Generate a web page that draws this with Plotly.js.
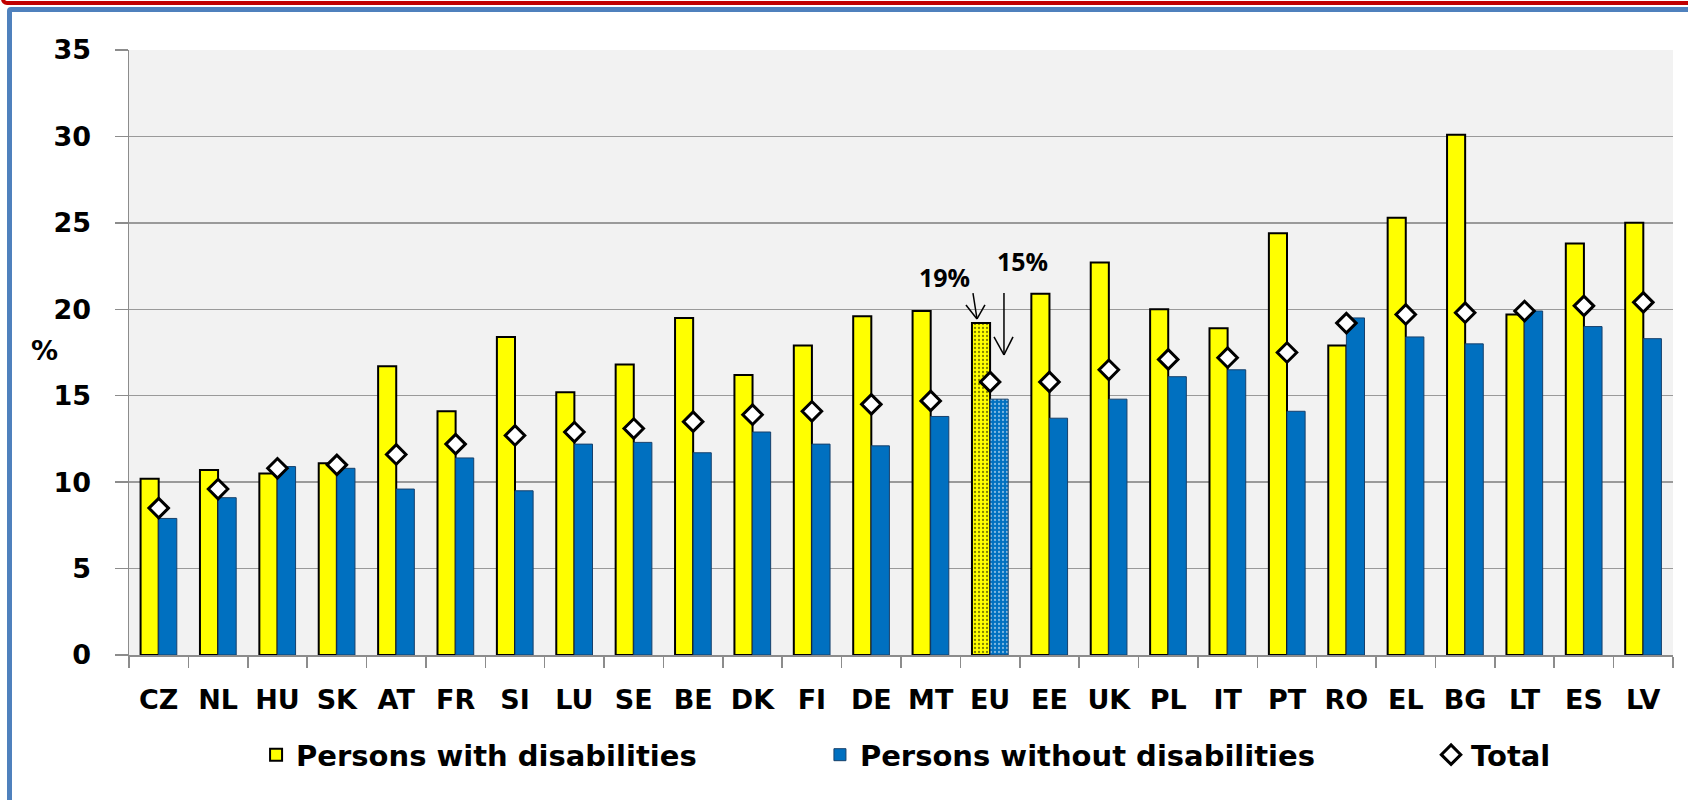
<!DOCTYPE html>
<html>
<head>
<meta charset="utf-8">
<script src="https://cdn.plot.ly/plotly-3.0.1.min.js"></script>
<style>
  html, body { margin: 0; padding: 0; background: #ffffff; overflow: hidden; }
  #wrap { position: relative; width: 1688px; height: 800px; }
  #chart { position: absolute; left: 0; top: 0; width: 1688px; height: 800px; }
  #redline { position: absolute; left: 1px; top: -25px; width: 1720px; height: 30px; box-sizing: border-box;
             border: 4px solid #C00000; border-radius: 6px; pointer-events: none; z-index: 5; }
  #blueframe { position: absolute; left: 7px; top: 7px; width: 1720px; height: 900px; box-sizing: border-box;
               border: 5px solid #4F81BD; border-radius: 4px; pointer-events: none; z-index: 5; }
</style>
</head>
<body>
<div id="wrap">
  <div id="chart"></div>
  <div id="redline"></div>
  <div id="blueframe"></div>
</div>
<script>
const categories = ['CZ','NL','HU','SK','AT','FR','SI','LU','SE','BE','DK','FI','DE','MT','EU','EE','UK','PL','IT','PT','RO','EL','BG','LT','ES','LV'];
const withDisabilities    = [10.2,10.7,10.5,11.1,16.7,14.1,18.4,15.2,16.8,19.5,16.2,17.9,19.6,19.9,19.2,20.9,22.7,20.0,18.9,24.4,17.9,25.3,30.1,19.7,23.8,25.0];
const withoutDisabilities = [7.9,9.1,10.9,10.8,9.6,11.4,9.5,12.2,12.3,11.7,12.9,12.2,12.1,13.8,14.8,13.7,14.8,16.1,16.5,14.1,19.5,18.4,18.0,19.9,19.0,18.3];
const totalValues         = [8.5,9.6,10.8,11.0,11.6,12.2,12.7,12.9,13.1,13.5,13.9,14.1,14.5,14.7,15.8,15.8,16.5,17.1,17.2,17.5,19.2,19.7,19.8,19.9,20.2,20.4];
const highlightCategory = 'EU';
const euLabelWith = '19%';
const euLabelWithout = '15%';

const patternShape = categories.map(c => c === highlightCategory ? '.' : '');
const euIndex = categories.indexOf(highlightCategory);

const catFont = { family: 'DejaVu Sans, sans-serif', size: 27, color: '#000000', weight: 'bold' };
const legFont = { family: 'DejaVu Sans, sans-serif', size: 29, color: '#000000', weight: 'bold' };
const yFont = { family: 'DejaVu Sans, sans-serif', size: 27, color: '#000000', weight: 'bold' };
const noteFont = { family: 'Open Sans, DejaVu Sans Condensed, sans-serif', size: 25, color: '#000000', weight: 'bold' };

const traces = [
  {
    type: 'bar', name: 'Persons with disabilities', x: categories, y: withDisabilities,
    legend: 'legend',
    marker: { color: '#FFFF00', line: { color: '#000000', width: 2 },
              pattern: { shape: patternShape, fgcolor: '#000000', bgcolor: '#FFFF00', size: 4, solidity: 0.25, fillmode: 'overlay' } },
    hoverinfo: 'x+y'
  },
  {
    type: 'bar', name: 'Persons without disabilities', x: categories, y: withoutDisabilities,
    legend: 'legend2',
    marker: { color: '#0070C0', line: { color: '#17406B', width: 1 },
              pattern: { shape: patternShape, fgcolor: '#FFFFFF', bgcolor: '#0070C0', size: 4, solidity: 0.25, fillmode: 'overlay' } },
    hoverinfo: 'x+y'
  },
  {
    type: 'scatter', mode: 'markers', name: 'Total', x: categories, y: totalValues,
    legend: 'legend3',
    marker: { symbol: 'diamond', size: 15, color: '#FFFFFF', line: { color: '#000000', width: 3 } },
    hoverinfo: 'x+y'
  }
];

const legendBase = { orientation: 'h', y: -0.165, yanchor: 'middle', xanchor: 'left', bgcolor: 'rgba(0,0,0,0)', font: legFont };

const arrowLine = { type: 'line', xref: 'x', yref: 'y', line: { color: '#000000', width: 1.5 } };

const layout = {
  width: 1688, height: 800,
  margin: { l: 129, r: 15, t: 50, b: 145 },
  paper_bgcolor: '#FFFFFF',
  plot_bgcolor: '#F2F2F2',
  barmode: 'group', bargap: 0.39, bargroupgap: 0,
  showlegend: true,
  legend:  Object.assign({}, legendBase, { x: 0.0823 }),
  legend2: Object.assign({}, legendBase, { x: 0.4475 }),
  legend3: Object.assign({}, legendBase, { x: 0.8433 }),
  xaxis: {
    type: 'category', range: [-0.5, categories.length - 0.5], autorange: false,
    tickson: 'boundaries', ticks: 'outside', ticklen: 11, tickwidth: 1.5, tickcolor: '#8C8C8C',
    showline: true, linecolor: '#8C8C8C', linewidth: 1.5, showgrid: false,
    tickfont: catFont, ticklabelstandoff: 20, fixedrange: true
  },
  yaxis: {
    range: [0, 35], autorange: false, dtick: 5, tick0: 0, ticks: 'outside', ticklen: 13, tickwidth: 1.5, tickcolor: '#8C8C8C',
    showline: true, linecolor: '#8C8C8C', linewidth: 1.5,
    showgrid: true, gridcolor: '#9A9A9A', gridwidth: 1.5, zeroline: false,
    tickfont: yFont, ticklabelstandoff: 18, fixedrange: true
  },
  annotations: [
    { xref: 'paper', yref: 'paper', x: -0.055, y: 0.5025, text: '%', showarrow: false, font: yFont, xanchor: 'center', yanchor: 'middle' },
    { xref: 'x', yref: 'y', x: euIndex - 0.76, y: 21.87, text: euLabelWith, showarrow: false, font: noteFont },
    { xref: 'x', yref: 'y', x: euIndex + 0.546, y: 22.82, text: euLabelWithout, showarrow: false, font: noteFont }
  ],
  shapes: [
    Object.assign({}, arrowLine, { x0: euIndex - 0.288, y0: 20.94, x1: euIndex - 0.220, y1: 19.44 }),
    Object.assign({}, arrowLine, { x0: euIndex - 0.406, y0: 20.25, x1: euIndex - 0.220, y1: 19.44 }),
    Object.assign({}, arrowLine, { x0: euIndex - 0.086, y0: 20.25, x1: euIndex - 0.220, y1: 19.44 }),
    Object.assign({}, arrowLine, { x0: euIndex + 0.234, y0: 20.94, x1: euIndex + 0.234, y1: 17.36 }),
    Object.assign({}, arrowLine, { x0: euIndex + 0.066, y0: 18.40, x1: euIndex + 0.234, y1: 17.36 }),
    Object.assign({}, arrowLine, { x0: euIndex + 0.386, y0: 18.40, x1: euIndex + 0.234, y1: 17.36 })
  ]
};

Plotly.newPlot('chart', traces, layout, { displayModeBar: false, staticPlot: true });
</script>
</body>
</html>
